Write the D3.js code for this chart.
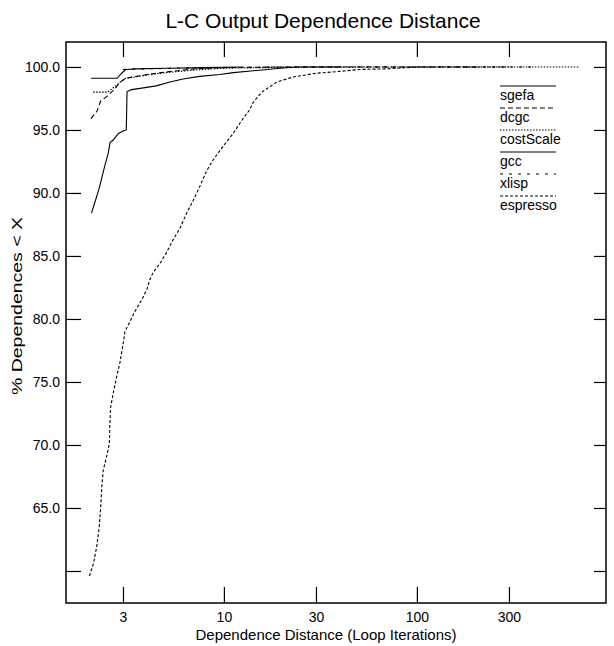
<!DOCTYPE html>
<html>
<head>
<meta charset="utf-8">
<script src="https://cdn.jsdelivr.net/npm/d3@7"></script>
<style>
  body { margin: 0; background: #fff; }
  svg { display: block; font-family: "Liberation Sans", Arial, Helvetica, sans-serif; }
</style>
</head>
<body>
<svg id="chart" width="614" height="646"></svg>
<script>
// Axis ticks
const distTicks = [3, 10, 30, 100, 300];
const pctTicks = [100, 95, 90, 85, 80, 75, 70, 65, 60];
const pctTickLabels = ["100.0", "95.0", "90.0", "85.0", "80.0", "75.0", "70.0", "65.0", ""];

// Series names in legend order
const seriesNames = ["sgefa", "dcgc", "costScale", "gcc", "xlisp", "espresso"];

// Cumulative % of dependences below each distance, per benchmark
const sgefaDist = [2.05, 2.8, 2.95, 3.1, 3.5, 5, 8, 12];
const sgefaPct  = [99.1, 99.1, 99.5, 99.8, 99.85, 99.9, 99.95, 100];

const dcgcDist = [2.05, 2.2, 2.3, 2.45, 2.7, 2.9, 3.1, 4, 5, 7, 10, 20, 200];
const dcgcPct  = [95.9, 96.5, 97.3, 97.6, 98.2, 98.8, 99.1, 99.4, 99.6, 99.85, 99.95, 100, 100];

const costScaleDist = [2.1, 2.5, 2.7, 2.9, 3.1, 4, 5, 7, 10, 30, 700];
const costScalePct  = [98.0, 98.0, 98.4, 98.8, 99.1, 99.35, 99.55, 99.75, 99.9, 100, 100];

const gccDist = [2.06, 2.19, 2.26, 2.33, 2.42, 2.52, 2.57, 2.67, 2.83, 2.98, 3.12, 3.15, 3.32, 3.68, 4.46, 5.25, 6.15, 7.49, 9.5, 11.2, 16.8, 19.5, 24, 40];
const gccPct  = [88.4, 89.7, 90.4, 91.2, 92.2, 93.2, 94.0, 94.2, 94.7, 94.9, 95.0, 98.05, 98.2, 98.3, 98.5, 98.8, 99.05, 99.25, 99.4, 99.55, 99.8, 99.9, 100, 100];

const xlispDist = [3, 4, 6, 10, 20, 400];
const xlispPct  = [99.8, 99.85, 99.9, 99.95, 100, 100];

const espressoDist = [2.01, 2.11, 2.19, 2.26, 2.30, 2.33, 2.37, 2.47, 2.55, 2.57, 2.59, 2.67, 2.78, 2.89, 3.01, 3.07, 3.26, 3.46, 3.75, 4.00, 4.13, 4.30, 4.66, 5.05, 5.46, 5.92, 6.41, 6.93, 7.49, 8.11, 8.77, 9.90, 11.15, 12.3, 13.6, 14.2, 15.7, 18.8, 22.8, 30.1, 39.9, 50.6, 69.5, 103, 300];
const espressoPct  = [59.6, 60.6, 61.9, 63.5, 65.1, 66.7, 68.0, 69.1, 70.1, 72.0, 73.0, 74.1, 75.4, 76.5, 78.1, 79.0, 79.8, 80.6, 81.5, 82.4, 83.1, 83.7, 84.4, 85.3, 86.3, 87.2, 88.4, 89.4, 90.5, 91.7, 92.6, 93.7, 94.7, 95.7, 96.6, 97.2, 98.0, 98.8, 99.2, 99.5, 99.65, 99.8, 99.85, 100, 100];

const seriesData = {
  sgefa: [sgefaDist, sgefaPct],
  dcgc: [dcgcDist, dcgcPct],
  costScale: [costScaleDist, costScalePct],
  gcc: [gccDist, gccPct],
  xlisp: [xlispDist, xlispPct],
  espresso: [espressoDist, espressoPct]
};

// Line styles per benchmark
const dashStyle = {
  sgefa: null,
  dcgc: "5,3",
  costScale: "1.5,1.5",
  gcc: null,
  xlisp: "3,6",
  espresso: "3,2"
};

const svg = d3.select("#chart");
const plot = { left: 66, top: 42, right: 606, bottom: 603 };

const x = d3.scaleLog().domain([1.52, 955]).range([plot.left, plot.right]);
const y = d3.scaleLinear().domain([57.46, 101.98]).range([plot.bottom, plot.top]);

// Title
svg.append("text")
  .attr("x", 323).attr("y", 28)
  .attr("text-anchor", "middle")
  .attr("font-size", 21)
  .text("L-C Output Dependence Distance");

// Axes with inward ticks on all four sides
function styleAxis(g) {
  g.select(".domain").remove();
  g.selectAll(".tick line").attr("stroke", "#000").attr("stroke-width", 1.2);
  g.selectAll("text").attr("fill", "#000")
    .attr("font-family", "'Liberation Sans', Arial, sans-serif")
    .attr("font-size", 14);
}

svg.append("g")
  .attr("transform", `translate(0,${plot.bottom})`)
  .call(d3.axisBottom(x).tickValues(distTicks).tickFormat(d3.format("d"))
    .tickSizeInner(-16).tickSizeOuter(0).tickPadding(9))
  .call(styleAxis);

svg.append("g")
  .attr("transform", `translate(0,${plot.top})`)
  .call(d3.axisTop(x).tickValues(distTicks).tickFormat("")
    .tickSizeInner(-15).tickSizeOuter(0))
  .call(styleAxis);

svg.append("g")
  .attr("transform", `translate(${plot.left},0)`)
  .call(d3.axisLeft(y).tickValues(pctTicks).tickFormat((d, i) => pctTickLabels[i])
    .tickSizeInner(-15).tickSizeOuter(0).tickPadding(6))
  .call(styleAxis);

svg.append("g")
  .attr("transform", `translate(${plot.right},0)`)
  .call(d3.axisRight(y).tickValues(pctTicks).tickFormat("")
    .tickSizeInner(-12).tickSizeOuter(0))
  .call(styleAxis);

// Frame
svg.append("rect")
  .attr("x", plot.left).attr("y", plot.top)
  .attr("width", plot.right - plot.left).attr("height", plot.bottom - plot.top)
  .attr("fill", "none").attr("stroke", "#000").attr("stroke-width", 1.5);

// Axis titles
svg.append("text")
  .attr("x", 326).attr("y", 640)
  .attr("text-anchor", "middle")
  .attr("font-size", 15)
  .text("Dependence Distance (Loop Iterations)");

// Y title, drawn in a widened face along its baseline
svg.append("text")
  .attr("transform", "translate(22,306) rotate(-90) scale(1.3,1)")
  .attr("text-anchor", "middle")
  .attr("font-size", 15)
  .text("% Dependences < X");

// Curves
const line = d3.line().x(d => x(d[0])).y(d => y(d[1]));
seriesNames.forEach(name => {
  const [dist, pct] = seriesData[name];
  const pts = dist.map((d, i) => [d, pct[i]]);
  svg.append("path")
    .datum(pts)
    .attr("d", line)
    .attr("fill", "none")
    .attr("stroke", "#000")
    .attr("stroke-width", 1.1)
    .attr("stroke-dasharray", dashStyle[name]);
});

// Legend: sample line above each label
const legend = svg.append("g").attr("transform", "translate(500,86)");
seriesNames.forEach((name, i) => {
  const row = legend.append("g").attr("transform", `translate(0,${i * 22})`);
  row.append("line")
    .attr("x1", 0).attr("x2", 56).attr("y1", 0).attr("y2", 0)
    .attr("stroke", "#000").attr("stroke-width", 1.2)
    .attr("stroke-dasharray", dashStyle[name]);
  row.append("text")
    .attr("x", 0).attr("y", 14)
    .attr("font-size", 14)
    .text(name);
});
</script>
</body>
</html>
